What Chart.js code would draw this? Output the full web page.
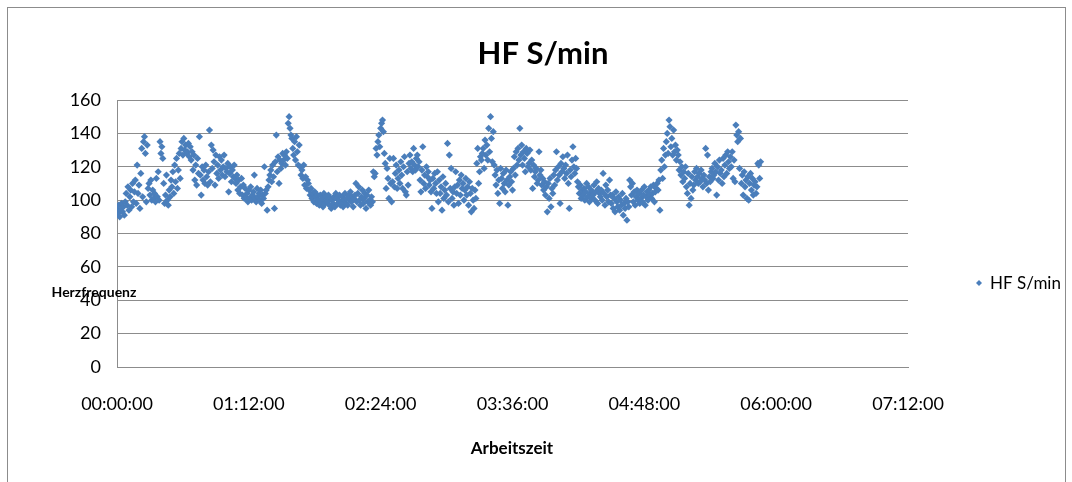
<!DOCTYPE html>
<html>
<head>
<meta charset="utf-8">
<script src="https://cdn.jsdelivr.net/npm/chart.js@4/dist/chart.umd.min.js"></script>
<style>
  html, body { margin: 0; padding: 0; background: #fff; }
  #wrap { width: 1072px; height: 482px; }
</style>
</head>
<body>
<div id="wrap"><canvas id="c" width="1072" height="482"></canvas></div>
<script>
// Heart rate recording over the working day, one reading every 30 s
const chartTitle = 'HF S/min';
const seriesName = 'HF S/min';
const xAxisTitle = 'Arbeitszeit';
const yAxisTitle = 'Herzfrequenz';
const sampleStepMin = 0.5;
const xTickLabels = ['00:00:00', '01:12:00', '02:24:00', '03:36:00', '04:48:00', '06:00:00', '07:12:00'];
const xTickStepMin = 72;
const yTicks = [0, 20, 40, 60, 80, 100, 120, 140, 160];

const hrValues = [
  95,92,97,90,94,98,93,96,91,99,
  104,97,108,94,102,106,96,110,99,105,
  112,98,121,104,109,95,116,131,102,135,
  138,128,99,133,107,110,103,112,100,106,
  101,104,99,113,102,117,100,135,128,132,
  125,110,98,103,115,100,97,106,102,112,
  108,117,104,121,111,125,107,118,128,113,
  131,135,127,137,130,133,128,129,134,126,
  132,124,129,118,127,112,121,109,125,116,
  138,115,103,120,112,118,110,121,114,109,
  117,142,111,133,119,130,123,109,127,116,
  121,113,126,118,124,115,120,127,114,119,
  117,122,105,116,120,111,118,114,121,113,
  110,115,106,112,104,108,113,103,109,101,
  107,102,104,99,106,101,108,100,103,105,
  115,101,99,107,102,104,100,106,98,103,
  101,120,104,106,94,108,112,115,118,111,
  121,114,95,123,139,117,126,110,124,119,
  122,128,124,127,121,129,125,146,150,143,
  139,137,131,127,135,124,138,129,121,133,
  120,115,118,113,121,109,114,107,112,110,
  106,103,107,101,104,99,105,102,98,103,
  100,97,103,99,101,96,104,98,102,100,
  99,103,97,101,95,100,98,102,96,104,
  101,98,100,103,97,99,102,96,100,104,
  98,101,97,103,100,105,99,102,96,101,
  103,110,99,104,108,100,97,102,106,98,
  101,104,95,103,99,106,100,97,102,99,
  117,114,116,131,127,135,139,132,143,146,
  148,141,128,122,107,119,113,101,125,110,
  99,111,125,108,116,121,107,113,118,110,
  123,115,107,120,126,105,103,117,109,122,
  127,119,123,117,131,121,118,125,127,120,
  123,112,105,118,132,110,115,107,120,114,
  117,109,112,105,95,113,107,116,110,104,
  117,99,112,104,108,94,114,101,106,110,
  103,134,99,127,107,119,101,105,97,108,
  117,104,109,98,112,103,115,107,110,100,
  106,113,103,108,97,111,104,93,107,100,
  95,106,101,122,131,110,117,126,124,128,
  131,119,136,127,133,124,143,129,150,137,
  123,141,121,115,109,118,104,112,98,119,
  113,107,116,110,105,118,112,97,109,114,
  117,111,106,119,126,115,129,121,131,124,
  143,127,133,121,129,125,117,131,128,120,
  122,130,118,124,107,121,114,117,119,110,
  112,129,115,118,109,113,106,111,103,108,
  93,110,101,113,96,107,104,115,109,118,
  129,112,120,115,98,122,117,126,119,113,
  121,116,127,110,95,118,114,124,132,120,
  116,125,119,111,108,104,109,101,106,103,
  107,100,105,110,102,108,99,104,106,101,
  103,109,100,105,111,98,107,104,102,106,
  100,116,104,97,109,102,106,99,112,103,
  98,103,95,101,93,105,99,96,102,94,
  100,97,104,91,98,95,101,88,99,96,
  112,108,103,110,99,105,97,102,106,100,
  104,98,101,106,99,103,108,97,102,105,
  100,106,103,108,101,104,109,99,105,107,
  110,106,112,94,118,124,113,131,120,127,
  135,140,128,148,144,132,137,127,142,129,
  133,124,130,127,118,123,115,120,111,117,
  113,120,108,104,116,97,110,101,114,106,
  109,117,112,119,114,110,116,111,118,113,
  108,115,112,131,110,127,106,114,111,117,
  119,113,115,122,117,103,120,112,124,116,
  118,110,125,114,121,127,116,129,123,119,
  126,120,129,113,124,111,145,139,135,141,
  119,137,110,115,103,117,108,112,101,114,
  100,110,116,106,113,103,109,111,104,108,
  122,121,113,123
];

const pointColor = '#4A7EBB';
const gridColor = '#8C8C8C';
const fontFamily = 'Lato, "Open Sans", sans-serif';

const points = hrValues.map((v, i) => ({ x: i * sampleStepMin, y: v }));

// Frame, headline, axis titles and legend entry, drawn around the plot
const decorations = {
  id: 'decorations',
  beforeDraw(chart) {
    const ctx = chart.ctx;
    ctx.save();
    ctx.fillStyle = '#ffffff';
    ctx.fillRect(0, 0, chart.width, chart.height);
    ctx.restore();
  },
  afterDraw(chart) {
    const ctx = chart.ctx;
    ctx.save();
    // outer frame
    ctx.strokeStyle = '#8C8C8C';
    ctx.lineWidth = 1;
    ctx.strokeRect(7.5, 7.5, 1058, 490);

    ctx.fillStyle = '#000000';
    ctx.textBaseline = 'alphabetic';

    // headline
    ctx.textAlign = 'center';
    ctx.font = 'bold 31px ' + fontFamily;
    ctx.fillText(chartTitle, 543, 64);

    // axis titles
    ctx.font = 'bold 17px ' + fontFamily;
    ctx.fillText(xAxisTitle, 512, 454);
    ctx.font = 'bold 14px ' + fontFamily;
    ctx.fillText(yAxisTitle, 94, 297);

    // legend entry
    ctx.fillStyle = pointColor;
    ctx.beginPath();
    ctx.moveTo(979, 280);
    ctx.lineTo(982, 283);
    ctx.lineTo(979, 286);
    ctx.lineTo(976, 283);
    ctx.closePath();
    ctx.fill();
    ctx.fillStyle = '#000000';
    ctx.textAlign = 'left';
    ctx.font = '17px ' + fontFamily;
    ctx.fillText(seriesName, 990, 289);
    ctx.restore();
  }
};

new Chart(document.getElementById('c'), {
  type: 'scatter',
  data: {
    datasets: [{
      label: seriesName,
      data: points,
      pointStyle: 'rectRot',
      pointRadius: 3.6,
      pointHoverRadius: 3.6,
      pointBorderWidth: 0,
      backgroundColor: pointColor,
      borderColor: pointColor
    }]
  },
  options: {
    responsive: false,
    animation: false,
    events: [],
    layout: { padding: { left: 0, right: 164, top: 100, bottom: 0 } },
    plugins: {
      legend: { display: false },
      title: { display: false },
      tooltip: { enabled: false }
    },
    scales: {
      x: {
        type: 'linear',
        min: 0,
        max: xTickStepMin * (xTickLabels.length - 1),
        afterFit(scale) { scale.height = 115; },
        ticks: {
          stepSize: xTickStepMin,
          padding: 26,
          maxRotation: 0,
          color: '#000000',
          font: { family: fontFamily, size: 18 },
          callback: (v) => xTickLabels[Math.round(v / xTickStepMin)]
        },
        grid: { display: false, drawTicks: false },
        border: { display: true, color: gridColor, width: 1 }
      },
      y: {
        min: yTicks[0],
        max: yTicks[yTicks.length - 1],
        afterFit(scale) { scale.width = 117; },
        afterBuildTicks(scale) { scale.ticks = yTicks.map(v => ({ value: v })); },
        ticks: {
          padding: 16,
          color: '#000000',
          font: { family: fontFamily, size: 18 }
        },
        grid: { color: gridColor, lineWidth: 1, drawTicks: false },
        border: { display: true, color: gridColor, width: 1 }
      }
    }
  },
  plugins: [decorations]
});
</script>
</body>
</html>
